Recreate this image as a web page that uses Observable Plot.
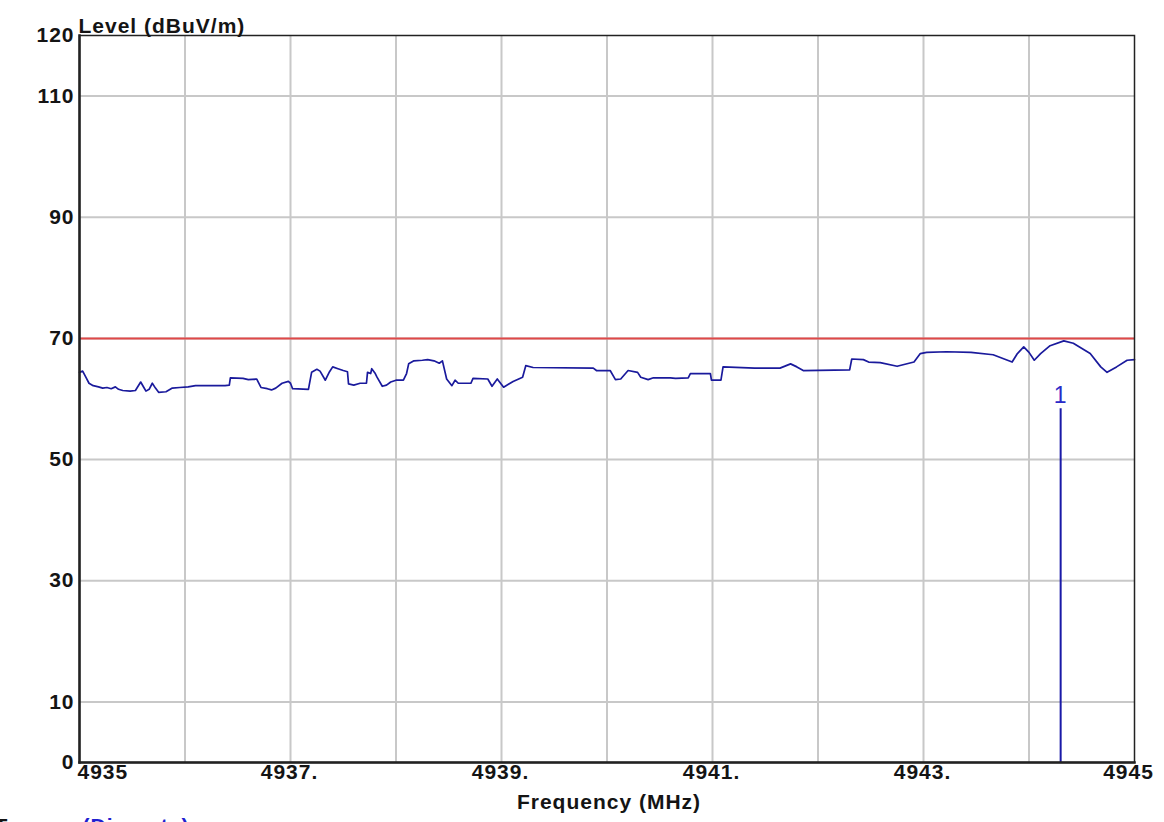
<!DOCTYPE html>
<html>
<head>
<meta charset="utf-8">
<script src="https://cdn.jsdelivr.net/npm/d3@7"></script>
<script src="https://cdn.jsdelivr.net/npm/@observablehq/plot@0.6"></script>
<style>
  html, body { margin: 0; padding: 0; background: #fff; overflow: hidden; }
  svg text { letter-spacing: 1px; }
</style>
</head>
<body>
<div id="chart"></div>
<script>
// Trace: frequency (MHz) and level (dBuV/m)
const freq = [
  4935.00,4935.03,4935.06,4935.09,4935.13,4935.18,4935.22,4935.26,4935.30,4935.34,
  4935.37,4935.41,4935.48,4935.53,4935.58,4935.61,4935.63,4935.66,4935.69,4935.72,
  4935.75,4935.82,4935.88,4935.95,4936.03,4936.10,4936.38,4936.42,4936.43,4936.55,
  4936.60,4936.68,4936.72,4936.78,4936.82,4936.86,4936.92,4936.98,4937.00,4937.02,
  4937.17,4937.20,4937.25,4937.28,4937.33,4937.37,4937.40,4937.45,4937.50,4937.54,
  4937.55,4937.60,4937.66,4937.72,4937.73,4937.76,4937.77,4937.80,4937.82,4937.87,
  4937.91,4937.95,4938.00,4938.07,4938.10,4938.12,4938.17,4938.25,4938.30,4938.36,
  4938.41,4938.44,4938.48,4938.53,4938.56,4938.59,4938.71,4938.73,4938.87,4938.91,
  4938.96,4939.02,4939.11,4939.20,4939.23,4939.30,4939.87,4939.90,4940.03,4940.08,
  4940.13,4940.20,4940.29,4940.32,4940.39,4940.44,4940.60,4940.65,4940.77,4940.79,
  4940.98,4940.99,4941.08,4941.10,4941.40,4941.64,4941.74,4941.80,4941.86,4942.30,
  4942.32,4942.43,4942.48,4942.59,4942.75,4942.91,4942.97,4943.03,4943.22,4943.45,
  4943.66,4943.84,4943.89,4943.95,4944.00,4944.05,4944.11,4944.20,4944.33,4944.42,
  4944.58,4944.68,4944.74,4944.83,4944.93,4945.00
];
const level = [
  64.4,64.6,63.6,62.6,62.2,62.0,61.8,61.9,61.7,62.0,
  61.6,61.4,61.3,61.4,62.8,61.9,61.3,61.6,62.6,61.8,
  61.1,61.2,61.8,61.9,62.0,62.2,62.2,62.3,63.5,63.4,
  63.2,63.3,61.9,61.7,61.5,61.8,62.6,62.9,62.6,61.7,
  61.6,64.4,64.9,64.6,63.1,64.5,65.3,65.0,64.7,64.5,
  62.5,62.3,62.6,62.6,64.4,64.2,65.0,64.3,63.6,62.1,
  62.3,62.8,63.1,63.1,64.2,65.8,66.3,66.4,66.5,66.3,
  65.9,66.3,63.3,62.2,63.1,62.6,62.6,63.4,63.3,62.1,
  63.3,61.95,62.9,63.6,65.5,65.2,65.1,64.7,64.7,63.2,
  63.3,64.7,64.4,63.6,63.2,63.5,63.5,63.4,63.5,64.2,
  64.2,63.1,63.1,65.3,65.1,65.1,65.8,65.3,64.7,64.8,
  66.6,66.5,66.1,66.0,65.4,66.1,67.5,67.7,67.8,67.7,
  67.3,66.1,67.5,68.6,67.7,66.4,67.5,68.8,69.6,69.2,
  67.5,65.3,64.4,65.3,66.4,66.5
];
const limit = [70];
const markerFreq = [4944.30];
const markerTop = [58.4];
const markerLabelLevel = [60.6];
const markerNames = ["1"];

const xGrid = [4936,4937,4938,4939,4940,4941,4942,4943,4944];
const yGrid = [10,30,50,70,90,110];
const yTicks = [0,10,30,50,70,90,110,120];
const xTicks = [4935,4937,4939,4941,4943,4945];
const xTickLabels = ["4935","4937.","4939.","4941.","4943.","4945"];

const data = freq.map((f, i) => ({f, v: level[i]}));
const xt = xTicks.map((t, i) => ({t, label: xTickLabels[i], i}));

const font = "'Liberation Sans', Arial, sans-serif";
const dark = "#141414";

const chart = Plot.plot({
  width: 1164,
  height: 822,
  marginLeft: 79,
  marginRight: 30,
  marginTop: 35,
  marginBottom: 60,
  x: {domain: [4935, 4945], axis: null},
  y: {domain: [0, 120], axis: null},
  style: {fontFamily: font, background: "#fff", overflow: "visible"},
  marks: [
    Plot.gridX(xGrid, {stroke: "#c8c8c8", strokeOpacity: 1, strokeWidth: 2}),
    Plot.gridY(yGrid, {stroke: "#c8c8c8", strokeOpacity: 1, strokeWidth: 2}),
    Plot.ruleY(limit, {stroke: "#e04848", strokeWidth: 2}),
    Plot.line(data, {x: "f", y: "v", stroke: "#1a1a9c", strokeWidth: 1.7}),
    Plot.ruleX(markerFreq, {x: d => d, y1: 0, y2: markerTop[0], stroke: "#1a1aa8", strokeWidth: 2}),
    Plot.text(markerNames, {x: markerFreq, y: markerLabelLevel, text: d => d, fill: "#2a2ac8", fontSize: 23, fontWeight: "normal"}),
    Plot.frame({stroke: "#222", strokeWidth: 1.5}),
    Plot.frame({anchor: "left", stroke: "#222", strokeWidth: 2.5}),
    Plot.frame({anchor: "bottom", stroke: "#222", strokeWidth: 2.5}),
    // y tick labels
    Plot.text(yTicks, {y: d => d, frameAnchor: "left", dx: -5, textAnchor: "end", text: d => String(d), fontSize: 21, fontWeight: "bold", fill: dark}),
    // x tick labels
    Plot.text(xt.filter(d => d.i === 0), {x: "t", frameAnchor: "bottom", dy: 16, dx: -2, textAnchor: "start", text: "label", fontSize: 21, fontWeight: "bold", fill: dark}),
    Plot.text(xt.filter(d => d.i > 0 && d.i < xt.length - 1), {x: "t", frameAnchor: "bottom", dy: 16, dx: -1, textAnchor: "middle", text: "label", fontSize: 21, fontWeight: "bold", fill: dark}),
    Plot.text(xt.filter(d => d.i === xt.length - 1), {x: "t", frameAnchor: "bottom", dy: 16, dx: -6, textAnchor: "middle", text: "label", fontSize: 21, fontWeight: "bold", fill: dark}),
    // axis titles
    Plot.text(["Level (dBuV/m)"], {frameAnchor: "top-left", dx: -1, dy: -17, textAnchor: "start", text: d => d, fontSize: 21, fontWeight: "bold", fill: dark}),
    Plot.text(["Frequency (MHz)"], {frameAnchor: "bottom", dx: 2, dy: 46, textAnchor: "middle", text: d => d, fontSize: 21, fontWeight: "bold", fill: dark}),
    // footer (cut off at the bottom edge in the reference)
    Plot.text(["Trace:"], {frameAnchor: "bottom-left", dx: -85, dy: 70, textAnchor: "start", text: d => d, fontSize: 21, fontWeight: "bold", fill: dark}),
    Plot.text(["(Discrete)"], {frameAnchor: "bottom-left", dx: 3, dy: 70, textAnchor: "start", text: d => d, fontSize: 21, fontWeight: "bold", fill: "#2020d0"})
  ]
});
document.getElementById("chart").appendChild(chart);
</script>
</body>
</html>
